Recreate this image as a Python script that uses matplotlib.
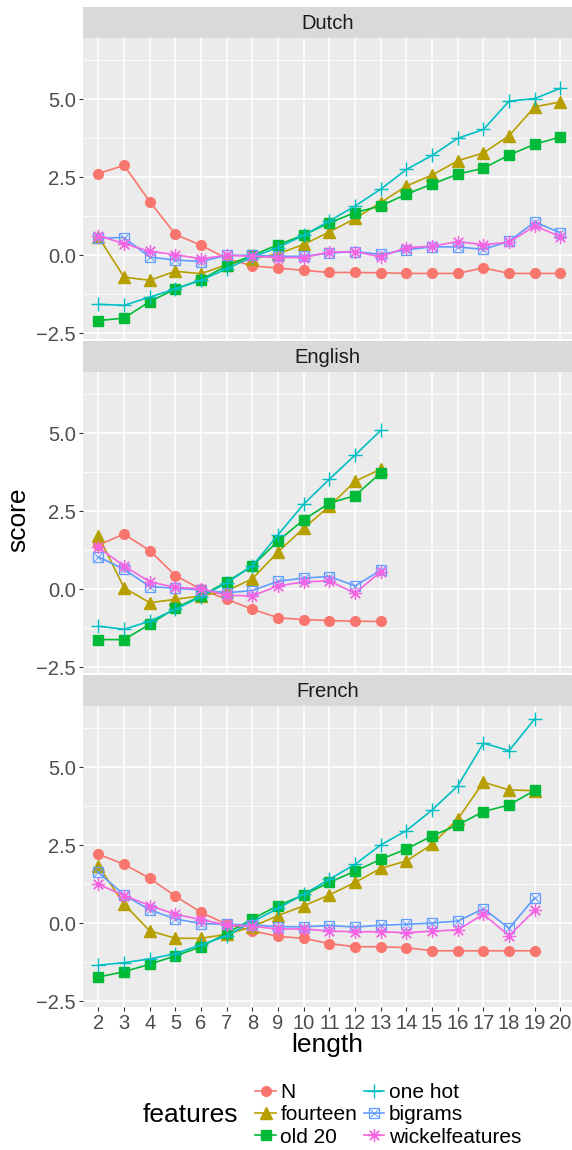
import matplotlib
matplotlib.use('Agg')
import matplotlib.pyplot as plt
from matplotlib.lines import Line2D
from matplotlib.legend_handler import HandlerTuple

plt.rcParams['font.family'] = ['Liberation Sans', 'DejaVu Sans']

features = ['N', 'fourteen', 'old 20', 'one hot', 'bigrams', 'wickelfeatures']
colors = ['#F8766D', '#B79F00', '#00BA38', '#00BFC4', '#619CFF', '#F564E3']
languages = ['Dutch', 'English', 'French']

len_dutch = list(range(2, 21))
len_english = list(range(2, 14))
len_french = list(range(2, 20))

dutch = {
    'N': [2.62, 2.88, 1.72, 0.67, 0.32, -0.10, -0.34, -0.41, -0.48, -0.55, -0.55, -0.56, -0.58, -0.58, -0.58, -0.40, -0.58, -0.58, -0.58],
    'fourteen': [0.59, -0.70, -0.80, -0.51, -0.59, -0.30, -0.11, 0.05, 0.35, 0.75, 1.18, 1.69, 2.22, 2.57, 3.03, 3.28, 3.83, 4.76, 4.91],
    'old 20': [-2.09, -2.01, -1.48, -1.08, -0.78, -0.33, 0.00, 0.34, 0.65, 1.04, 1.37, 1.58, 1.96, 2.28, 2.60, 2.79, 3.21, 3.56, 3.79],
    'one hot': [-1.57, -1.60, -1.34, -1.07, -0.80, -0.43, -0.05, 0.25, 0.64, 1.10, 1.58, 2.12, 2.75, 3.20, 3.75, 4.03, 4.94, 5.02, 5.35],
    'bigrams': [0.55, 0.57, -0.06, -0.15, -0.20, 0.00, 0.00, -0.03, -0.03, 0.07, 0.12, 0.03, 0.18, 0.27, 0.27, 0.19, 0.45, 1.07, 0.72],
    'wickelfeatures': [0.63, 0.37, 0.13, 0.02, -0.11, 0.00, -0.03, -0.07, -0.07, 0.10, 0.12, -0.05, 0.25, 0.29, 0.44, 0.34, 0.42, 0.94, 0.60],
}
english = {
    'N': [1.42, 1.77, 1.24, 0.44, 0.00, -0.32, -0.64, -0.91, -0.97, -1.00, -1.02, -1.03],
    'fourteen': [1.71, 0.05, -0.43, -0.32, -0.21, -0.05, 0.34, 1.20, 1.96, 2.66, 3.46, 3.85],
    'old 20': [-1.61, -1.61, -1.12, -0.60, -0.21, 0.24, 0.75, 1.55, 2.23, 2.76, 3.00, 3.73],
    'one hot': [-1.18, -1.28, -1.02, -0.64, -0.24, 0.21, 0.75, 1.75, 2.73, 3.53, 4.30, 5.09],
    'bigrams': [1.04, 0.64, 0.09, 0.03, -0.02, -0.11, -0.04, 0.26, 0.36, 0.41, 0.11, 0.61],
    'wickelfeatures': [1.34, 0.75, 0.24, 0.06, 0.02, -0.19, -0.21, 0.11, 0.24, 0.27, -0.13, 0.57],
}
french = {
    'N': [2.21, 1.89, 1.44, 0.87, 0.35, -0.03, -0.24, -0.42, -0.48, -0.65, -0.75, -0.75, -0.78, -0.88, -0.88, -0.88, -0.88, -0.88],
    'fourteen': [1.84, 0.61, -0.24, -0.48, -0.48, -0.35, -0.11, 0.25, 0.56, 0.91, 1.31, 1.76, 2.00, 2.53, 3.34, 4.52, 4.27, 4.25],
    'old 20': [-1.72, -1.55, -1.31, -1.04, -0.75, -0.32, 0.14, 0.57, 0.91, 1.31, 1.67, 2.05, 2.38, 2.80, 3.15, 3.58, 3.79, 4.26],
    'one hot': [-1.34, -1.26, -1.14, -0.97, -0.69, -0.40, 0.05, 0.48, 0.93, 1.41, 1.89, 2.51, 2.97, 3.63, 4.40, 5.77, 5.53, 6.55],
    'bigrams': [1.63, 0.91, 0.43, 0.14, -0.01, -0.03, -0.05, -0.11, -0.11, -0.07, -0.12, -0.06, -0.03, 0.01, 0.07, 0.47, -0.16, 0.82],
    'wickelfeatures': [1.25, 0.89, 0.57, 0.29, 0.12, -0.05, -0.10, -0.18, -0.18, -0.25, -0.27, -0.27, -0.30, -0.25, -0.21, 0.29, -0.40, 0.42],
}
panels = [(len_dutch, dutch), (len_english, english), (len_french, french)]

yticks = [-2.5, 0.0, 2.5, 5.0]
ytick_labels = ['\u22122.5', '0.0', '2.5', '5.0']
xticks = list(range(2, 21))

W, H = 572, 1150
fig = plt.figure(figsize=(W / 100, H / 100), dpi=100)

def px(x0, y0, x1, y1):
    # pixel box (top-left origin) -> figure fraction rect
    return [x0 / W, 1 - y1 / H, (x1 - x0) / W, (y1 - y0) / H]

left, right = 83, 572
strip_tops = [7, 341, 675]
strip_h = 31
panel_h = 301

# marker style per feature
styles = {
    'N': dict(marker='o', ms=7),
    'fourteen': dict(marker='^', ms=8),
    'old 20': dict(marker='s', ms=7),
    'one hot': dict(marker='+', ms=10, mew=1.0),
    'bigrams': dict(marker='s', ms=7, mfc='none', mew=0.9),
    'wickelfeatures': dict(marker=(8, 2, 0), ms=9.5, mew=0.9),
}

def draw_marker(ax, x, y, feat, color):
    ax.plot(x, y, color=color, lw=1.2, **styles[feat])
    if feat == 'bigrams':
        ax.plot(x, y, ls='none', marker='x', ms=5.5, mew=0.7, color=color)

for i, (lang, (lens, vals)) in enumerate(zip(languages, panels)):
    top = strip_tops[i]
    sax = fig.add_axes(px(left, top, right, top + strip_h))
    sax.set_facecolor('#D9D9D9')
    sax.set_xticks([])
    sax.set_yticks([])
    for s in sax.spines.values():
        s.set_visible(False)
    sax.text(0.5, 0.47, lang, ha='center', va='center', fontsize=14.5,
             color='#1A1A1A', transform=sax.transAxes)

    ax = fig.add_axes(px(left, top + strip_h, right, top + strip_h + panel_h))
    ax.set_facecolor('#EBEBEB')
    for s in ax.spines.values():
        s.set_visible(False)
    ax.set_xlim(1.4, 20.45)
    ax.set_ylim(-2.68, 6.96)
    ax.set_yticks(yticks)
    ax.set_yticks([-1.25, 1.25, 3.75, 6.25], minor=True)
    ax.set_xticks(xticks)
    ax.grid(which='major', color='white', lw=1.1)
    ax.grid(which='minor', axis='y', color='white', lw=0.55)
    ax.set_axisbelow(True)
    ax.tick_params(which='minor', length=0)
    ax.tick_params(which='major', length=3, width=0.8, color='#333333',
                   labelsize=14.5, labelcolor='#4D4D4D', pad=2)
    ax.set_yticklabels(ytick_labels)
    if i < 2:
        ax.tick_params(axis='x', length=0, labelbottom=False)
    else:
        ax.set_xticklabels([str(v) for v in xticks])
    for feat, c in zip(features, colors):
        draw_marker(ax, lens, vals[feat], feat, c)

fig.text(18 / W, 1 - 520 / H, 'score', rotation=90, ha='center', va='center', fontsize=19)
fig.text((left + right) / 2 / W, 1 - 1045 / H, 'length', ha='center', va='center', fontsize=19)
fig.text(143 / W, 1 - 1115 / H, 'features', ha='left', va='center', fontsize=19)

handles = []
for feat, c in zip(features, colors):
    h = Line2D([], [], color=c, lw=1.2, **styles[feat])
    if feat == 'bigrams':
        h = (h, Line2D([], [], color=c, ls='none', marker='x', ms=5.5, mew=0.7))
    handles.append(h)

leg = fig.legend(handles, features, ncol=2, loc='center left',
                 bbox_to_anchor=(245 / W, 1 - 1115 / H), frameon=False,
                 fontsize=15, handlelength=1.0, handletextpad=0.2,
                 columnspacing=0.3, labelspacing=0.15, borderpad=0,
                 handler_map={tuple: HandlerTuple(ndivide=1)})

fig.savefig('out.png', dpi=100)
